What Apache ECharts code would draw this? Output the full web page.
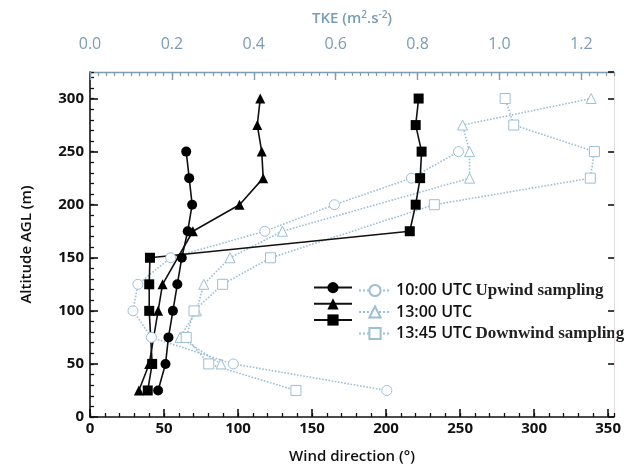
<!DOCTYPE html>
<html><head><meta charset="utf-8">
<script src="https://cdn.jsdelivr.net/npm/echarts@6/dist/echarts.min.js"></script>
<style>html,body{margin:0;padding:0;background:#fff}#c{width:624px;height:473px}</style>
</head><body><div id="c"></div>
<script>
// ---- data ----
const legendTimes = ['10:00 UTC', '13:00 UTC', '13:45 UTC'];
const legendNotes = ['Upwind sampling', '', 'Downwind sampling'];

// wind direction (deg) vs altitude (m)
const altWind1000 = [25, 50, 75, 100, 125, 150, 175, 200, 225, 250];
const wind1000    = [46, 51, 53, 56, 59, 62, 66, 69, 67, 65];
const altWind1300 = [25, 50, 100, 125, 175, 200, 225, 250, 275, 300];
const wind1300    = [33, 40, 46, 49, 69.5, 101, 117, 116, 113, 115];
const altWind1345 = [25, 50, 100, 125, 150, 175, 200, 225, 250, 275, 300];
const wind1345    = [39, 42, 40, 40, 40.5, 216, 220, 223, 224, 220, 222];

// TKE (m2 s-2) vs altitude (m)
const altTke1000 = [25, 50, 75, 100, 125, 150, 175, 200, 225, 250];
const tke1000    = [0.725, 0.35, 0.15, 0.105, 0.117, 0.197, 0.427, 0.597, 0.785, 0.90];
const altTke1300 = [50, 75, 100, 125, 150, 175, 225, 250, 275, 300];
const tke1300    = [0.32, 0.22, 0.26, 0.278, 0.342, 0.47, 0.927, 0.927, 0.91, 1.224];
const altTke1345 = [25, 50, 75, 100, 125, 150, 200, 225, 250, 275, 300];
const tke1345    = [0.503, 0.29, 0.235, 0.254, 0.324, 0.441, 0.841, 1.222, 1.232, 1.035, 1.014];

// ---- chart ----
const pairs = (xs, ys) => xs.map((x, i) => [x, ys[i]]);
const BLACK = '#111111';
const TKEC = '#9dbfd3';
const AXC = '#7c9cb0';
const sans = '"Open Sans", "Noto Sans", sans-serif';

function windSeries(name, sym, xs, ys) {
  return {
    name, type: 'line', xAxisIndex: 0, yAxisIndex: 0, symbol: sym, symbolSize: 10,
    data: pairs(xs, ys),
    lineStyle: { color: BLACK, width: 1.6 }, itemStyle: { color: '#000000' }
  };
}
function tkeSeries(name, sym, xs, ys) {
  return {
    name, type: 'line', xAxisIndex: 2, yAxisIndex: 0, symbol: sym, symbolSize: 10,
    data: pairs(xs, ys),
    lineStyle: { color: TKEC, width: 1.6, type: 'dotted' },
    itemStyle: { color: '#ffffff', borderColor: TKEC, borderWidth: 1 }
  };
}
function tick(len, color, width) {
  return { show: true, inside: true, length: len, lineStyle: { color: color, width: width } };
}
function hiddenSplit() {
  return { show: true, lineStyle: { color: '#000', opacity: 0 } };
}

const chart = echarts.init(document.getElementById('c'));
chart.setOption({
  animation: false,
  grid: { left: 90, right: 4, top: 72, bottom: 56 },
  xAxis: [
    { type: 'value', position: 'bottom', min: 0, max: 354, interval: 50, z: 6,
      axisLine: { show: true, onZero: false, lineStyle: { color: BLACK, width: 1.6 } },
      axisTick: tick(8, BLACK, 1.6),
      axisLabel: { color: BLACK, fontSize: 15, fontWeight: 'bold', fontFamily: sans, margin: 4, showMaxLabel: false },
      splitLine: hiddenSplit(),
      name: 'Wind direction (°)', nameLocation: 'middle', nameGap: 32,
      nameTextStyle: { color: BLACK, fontSize: 15, fontWeight: 600, fontFamily: sans } },
    { type: 'value', position: 'bottom', min: 0, max: 354, interval: 10, z: 6,
      axisLine: { show: false, onZero: false }, axisLabel: { show: false }, splitLine: hiddenSplit(),
      axisTick: tick(4, BLACK, 1.3) },
    { type: 'value', position: 'top', min: 0, max: 1.28, interval: 0.2, z: 6,
      axisLine: { show: true, onZero: false, lineStyle: { color: AXC, width: 1.4 } },
      axisTick: tick(8, AXC, 1.4),
      axisLabel: { color: '#7a9db3', fontSize: 16, fontFamily: sans, margin: 20, showMaxLabel: false,
        formatter: v => v.toFixed(1) },
      splitLine: hiddenSplit(),
      name: 'TKE (m{sup|2}.s{sup|-2})', nameLocation: 'middle', nameGap: 44,
      nameTextStyle: { color: '#7a9db3', fontSize: 15, fontWeight: 600, fontFamily: sans,
        rich: { sup: { fontSize: 10, verticalAlign: 'top', color: '#7a9db3', fontFamily: sans, padding: [0, 0, 8, 0] } } } },
    { type: 'value', position: 'top', min: 0, max: 1.28, interval: 0.02, z: 6,
      axisLine: { show: false, onZero: false }, axisLabel: { show: false }, splitLine: hiddenSplit(),
      axisTick: tick(4, AXC, 1.2) }
  ],
  yAxis: [
    { type: 'value', position: 'left', min: 0, max: 325, interval: 50, z: 6,
      axisLine: { show: true, onZero: false, lineStyle: { color: BLACK, width: 1.6 } },
      axisTick: tick(8, BLACK, 1.6),
      axisLabel: { color: BLACK, fontSize: 15, fontWeight: 'bold', fontFamily: sans, margin: 6, showMaxLabel: false },
      splitLine: hiddenSplit(),
      name: 'Altitude AGL (m)', nameLocation: 'middle', nameGap: 56,
      nameTextStyle: { color: BLACK, fontSize: 15, fontWeight: 600, fontFamily: sans } },
    { type: 'value', position: 'left', min: 0, max: 325, interval: 10, z: 6,
      axisLine: { show: false, onZero: false }, axisLabel: { show: false }, splitLine: hiddenSplit(),
      axisTick: tick(4, BLACK, 1.3) },
    { type: 'value', position: 'right', min: 0, max: 325, interval: 50, z: 6,
      axisLine: { show: true, onZero: false, lineStyle: { color: '#e6dcdc', width: 1 } },
      axisLabel: { show: false }, splitLine: hiddenSplit(),
      axisTick: tick(6, BLACK, 1.6) }
  ],
  legend: [
    { data: ['w1', 'w2', 'w3'], orient: 'vertical', left: 308, top: 277,
      itemWidth: 38, itemHeight: 14, itemGap: 5, formatter: () => '',
      textStyle: { fontSize: 1, lineHeight: 14 }, selectedMode: false },
    { data: ['t1', 't2', 't3'], orient: 'vertical', left: 353, top: 277,
      itemWidth: 32, itemHeight: 14, itemGap: 5, selectedMode: false,
      formatter: name => {
        const i = ['t1', 't2', 't3'].indexOf(name);
        return '{a|' + legendTimes[i] + '}' + (legendNotes[i] ? ' {b|' + legendNotes[i] + '}' : '');
      },
      textStyle: { lineHeight: 14,
        rich: {
          a: { fontFamily: sans, fontWeight: 600, fontSize: 16, color: '#111', lineHeight: 14 },
          b: { fontFamily: '"Liberation Serif", "DejaVu Serif", serif', fontWeight: 'bold', fontSize: 17, color: '#222', lineHeight: 14 }
        } } }
  ],
  series: [
    tkeSeries('t1', 'circle', tke1000, altTke1000),
    tkeSeries('t2', 'triangle', tke1300, altTke1300),
    tkeSeries('t3', 'rect', tke1345, altTke1345),
    windSeries('w1', 'circle', wind1000, altWind1000),
    windSeries('w2', 'triangle', wind1300, altWind1300),
    windSeries('w3', 'rect', wind1345, altWind1345)
  ]
});
</script>
</body></html>
